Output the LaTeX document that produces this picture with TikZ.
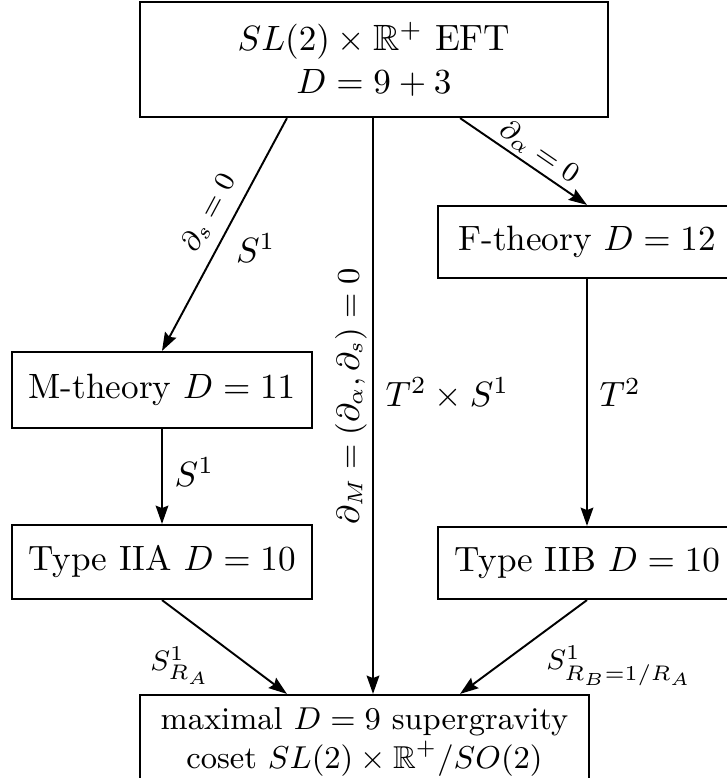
\documentclass[tikz,border=0pt]{standalone}
\usepackage{amsmath,amssymb}
\usetikzlibrary{arrows.meta}
\begin{document}
\begin{tikzpicture}[x=0.01cm,y=0.01cm,
  box/.style={draw, line width=0.6pt, align=center, inner sep=0pt},
  conn/.style={line width=0.55pt, -{Stealth[length=5.2pt,width=3.6pt,inset=0.7pt]}},
  slab/.style={sloped, above, font=\footnotesize},
  dlab/.style={font=\footnotesize},
]
\path[use as bounding box, clip] (0,0) rectangle (727,-778);
\node[box, minimum width=4.68cm, minimum height=1.15cm, font=\fontsize{10.4}{12.4}\selectfont] (top) at (374,-59.5) {$SL(2)\times\mathbb{R}^+$ EFT\\ $D=9+3$};
\node[box, minimum width=2.98cm, minimum height=0.72cm] (F) at (587,-242) {F-theory $D=12$};
\node[box, minimum width=3.00cm, minimum height=0.76cm] (M) at (162,-390) {M-theory $D=11$};
\node[box, minimum width=2.99cm, minimum height=0.74cm] (IIA) at (162,-562) {Type IIA $D=10$};
\node[box, minimum width=2.98cm, minimum height=0.72cm] (IIB) at (587,-563) {Type IIB $D=10$};
\node[box, minimum width=4.49cm, minimum height=0.94cm, font=\small] (bot) at (364.5,-742) {maximal $D=9$ supergravity\\ coset $SL(2)\times\mathbb{R}^+/SO(2)$};

\draw[conn] ([xshift=-0.87cm]top.south) -- node[slab,pos=0.455]{$\partial_s=0$} node[pos=0.557,anchor=west,xshift=1.7pt]{$S^1$} (M.north);
\draw[conn] ([xshift=0.86cm]top.south) -- node[slab,pos=0.55,inner sep=1.2pt]{$\partial_\alpha=0$} (F.north);
\draw[conn] ([xshift=-0.01cm]top.south) -- node[pos=0.483,rotate=90,anchor=south,inner sep=1.5pt,font=\small]{$\partial_M=(\partial_\alpha,\partial_s)=0$} node[pos=0.478,anchor=west]{$T^2\times S^1$} ([xshift=0.085cm]bot.north);
\draw[conn] (M.south) -- node[pos=0.45,anchor=west]{$S^1$} (IIA.north);
\draw[conn] (F.south) -- node[pos=0.46,anchor=west]{$T^2$} (IIB.north);
\draw[conn] (IIA.south) -- node[dlab,pos=0.70,anchor=east,xshift=-0.27cm]{$S^1_{R_A}$} ([xshift=-0.775cm]bot.north);
\draw[conn] (IIB.south) -- node[dlab,pos=0.70,anchor=west,xshift=0.356cm]{$S^1_{R_B=1/R_A}$} ([xshift=0.955cm]bot.north);
\end{tikzpicture}
\end{document}
